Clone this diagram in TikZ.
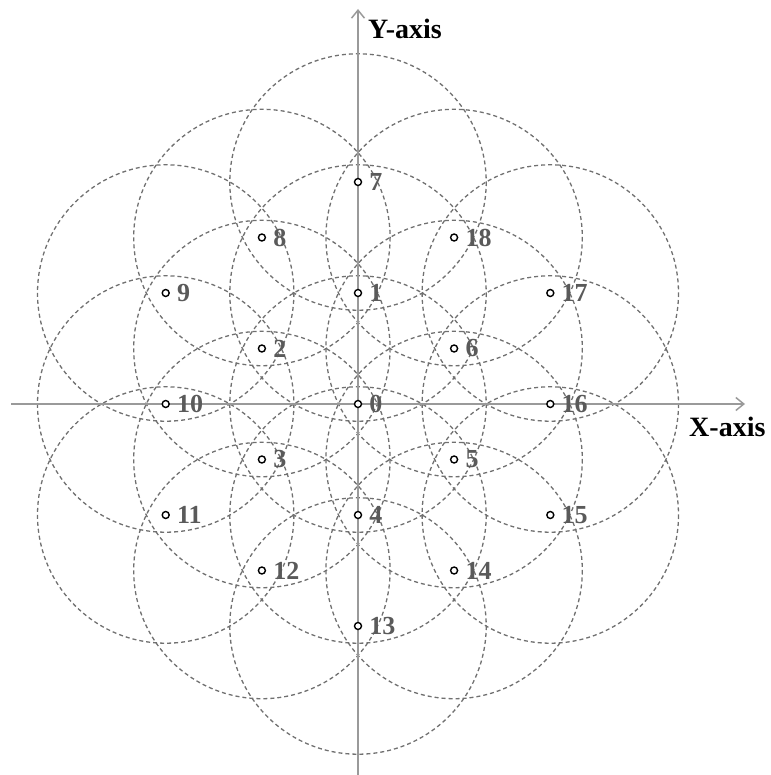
\documentclass[tikz,border=0pt]{standalone}
\usepackage{fontspec}
\setmainfont{Liberation Serif}
\usetikzlibrary{arrows.meta}
\definecolor{ringgray}{HTML}{707070}
\definecolor{axisgray}{HTML}{9A9A9A}
\definecolor{numgray}{HTML}{5A5A5A}
\tikzset{
  ring/.style={draw=ringgray, line width=1.3pt, dash pattern=on 4pt off 3pt},
  axisline/.style={draw=axisgray, line width=2pt, -{Straight Barb[length=8pt,width=13pt,line width=1.5pt]}},
  ptmark/.style={circle, draw=black, fill=white, line width=1.4pt, minimum size=7pt, inner sep=0pt},
  numlabel/.style={anchor=west, inner sep=0pt, text=numgray, font=\fontsize{26}{30}\selectfont\bfseries},
  axislabel/.style={anchor=west, inner sep=0pt, text=black, font=\fontsize{28}{32}\selectfont\bfseries}
}
\begin{document}
\begin{tikzpicture}[x=1pt, y=-1pt]
\useasboundingbox (0,0) rectangle (770,775);
\foreach \n/\x/\y in {0/358/404, 1/358/293, 2/261.9/348.5, 3/261.9/459.5, 4/358/515, 5/454.1/459.5, 6/454.1/348.5,
  7/358/182, 8/261.9/237.5, 9/165.7/293, 10/165.7/404, 11/165.7/515, 12/261.9/570.5, 13/358/626,
  14/454.1/570.5, 15/550.3/515, 16/550.3/404, 17/550.3/293, 18/454.1/237.5}
  {\coordinate (c\n) at (\x,\y);}
\foreach \n in {0,...,18}
  {\draw[ring] (c\n) circle[radius=128.2];}
\coordinate (xl) at (11,404);
\coordinate (xr) at (745,404);
\coordinate (yb) at (358,775);
\coordinate (yt) at (358,9);
\draw[axisline] (xl) -- (xr);
\draw[axisline] (yb) -- (yt);
\node[axislabel] (ylab) at (368,29) {Y-axis};
\node[axislabel] (xlab) at (689,427) {X-axis};
\foreach \n in {0,...,18}
  {\node[ptmark] (p\n) at (c\n) {};
   \node[numlabel] (l\n) at ([xshift=7pt]p\n.east) {\n};}
\end{tikzpicture}
\end{document}
